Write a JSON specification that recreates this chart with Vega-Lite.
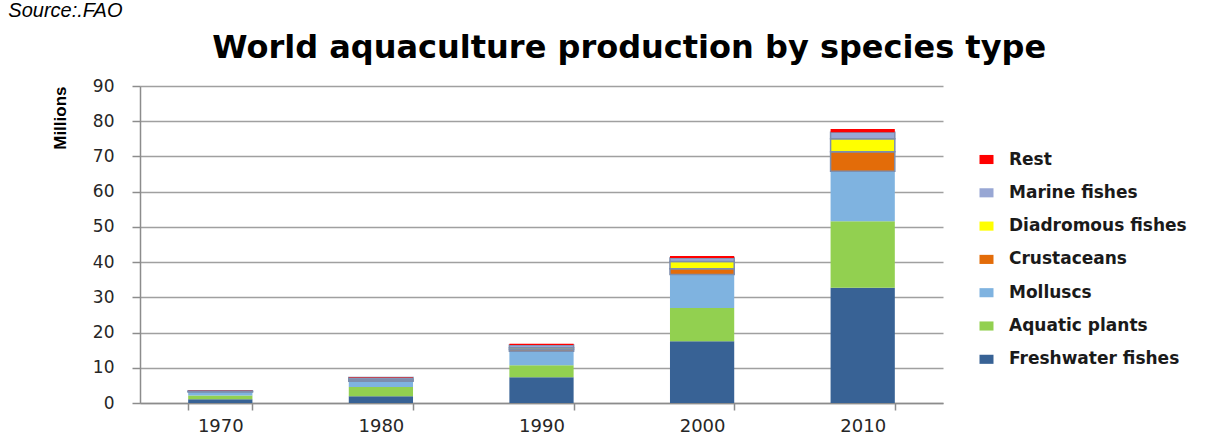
{
  "$schema": "https://vega.github.io/schema/vega-lite/v6.json",
  "padding": {"left": 8, "top": 1, "right": 2, "bottom": 0},
  "background": "white",
  "title": {"text": "Source:.FAO", "anchor": "start", "frame": "bounds", "dx": -43, "font": "Liberation Sans", "fontSize": 20, "fontStyle": "italic", "fontWeight": "normal", "color": "#000000", "offset": 11},
  "vconcat": [
    {
      "title": {"text": "World aquaculture production by species type", "anchor": "middle", "frame": "bounds", "dx": 132, "font": "DejaVu Sans", "fontSize": 32, "fontWeight": "bold", "color": "#000000", "offset": 12},
      "width": 803,
      "height": 317,
      "data": {
        "values": [
          {"year": "1970", "species": "Freshwater fishes", "k": 1, "value": 1.1},
          {"year": "1970", "species": "Aquatic plants", "k": 2, "value": 1.0},
          {"year": "1970", "species": "Molluscs", "k": 3, "value": 1.1},
          {"year": "1970", "species": "Crustaceans", "k": 4, "value": 0.02},
          {"year": "1970", "species": "Diadromous fishes", "k": 5, "value": 0.08},
          {"year": "1970", "species": "Marine fishes", "k": 6, "value": 0.2},
          {"year": "1970", "species": "Rest", "k": 7, "value": 0.02},
          {"year": "1980", "species": "Freshwater fishes", "k": 1, "value": 1.9},
          {"year": "1980", "species": "Aquatic plants", "k": 2, "value": 2.65},
          {"year": "1980", "species": "Molluscs", "k": 3, "value": 1.6},
          {"year": "1980", "species": "Crustaceans", "k": 4, "value": 0.2},
          {"year": "1980", "species": "Diadromous fishes", "k": 5, "value": 0.4},
          {"year": "1980", "species": "Marine fishes", "k": 6, "value": 0.5},
          {"year": "1980", "species": "Rest", "k": 7, "value": 0.1},
          {"year": "1990", "species": "Freshwater fishes", "k": 1, "value": 7.3},
          {"year": "1990", "species": "Aquatic plants", "k": 2, "value": 3.4},
          {"year": "1990", "species": "Molluscs", "k": 3, "value": 4.0},
          {"year": "1990", "species": "Crustaceans", "k": 4, "value": 0.5},
          {"year": "1990", "species": "Diadromous fishes", "k": 5, "value": 0.5},
          {"year": "1990", "species": "Marine fishes", "k": 6, "value": 0.8},
          {"year": "1990", "species": "Rest", "k": 7, "value": 0.3},
          {"year": "2000", "species": "Freshwater fishes", "k": 1, "value": 17.5},
          {"year": "2000", "species": "Aquatic plants", "k": 2, "value": 9.5},
          {"year": "2000", "species": "Molluscs", "k": 3, "value": 9.5},
          {"year": "2000", "species": "Crustaceans", "k": 4, "value": 1.6},
          {"year": "2000", "species": "Diadromous fishes", "k": 5, "value": 2.1},
          {"year": "2000", "species": "Marine fishes", "k": 6, "value": 1.0},
          {"year": "2000", "species": "Rest", "k": 7, "value": 0.5},
          {"year": "2010", "species": "Freshwater fishes", "k": 1, "value": 32.7},
          {"year": "2010", "species": "Aquatic plants", "k": 2, "value": 18.9},
          {"year": "2010", "species": "Molluscs", "k": 3, "value": 14.2},
          {"year": "2010", "species": "Crustaceans", "k": 4, "value": 5.5},
          {"year": "2010", "species": "Diadromous fishes", "k": 5, "value": 3.7},
          {"year": "2010", "species": "Marine fishes", "k": 6, "value": 1.9},
          {"year": "2010", "species": "Rest", "k": 7, "value": 0.9}
        ]
      },
      "mark": {"type": "bar", "width": {"band": 1}, "strokeWidth": 1.5},
      "encoding": {
        "x": {
          "field": "year", "type": "nominal",
          "scale": {"paddingInner": 0.6, "paddingOuter": 0.3},
          "axis": {"title": null, "labelAngle": 0, "tickBand": "extent", "tickSize": 7, "tickColor": "#8C8C8C", "tickWidth": 1.5, "domainColor": "#8C8C8C", "domainWidth": 1.5, "labelFont": "DejaVu Sans", "labelFontSize": 18, "labelColor": "#262626", "labelPadding": 7}
        },
        "y": {
          "field": "value", "type": "quantitative", "stack": "zero",
          "scale": {"domain": [0, 90], "nice": false},
          "axis": {"title": "Millions", "titleFont": "Liberation Sans", "titleFontSize": 17, "titleFontWeight": "bold", "titleColor": "#000000", "titleAnchor": "end", "titlePadding": 23, "values": [0, 10, 20, 30, 40, 50, 60, 70, 80, 90], "labelFont": "DejaVu Sans", "labelFontSize": 17, "labelColor": "#262626", "labelPadding": 18, "tickSize": 8, "tickColor": "#8C8C8C", "tickWidth": 1.5, "domainColor": "#8C8C8C", "domainWidth": 1.5, "gridColor": "#A0A0A0", "gridWidth": 1.5}
        },
        "color": {
          "field": "species", "type": "nominal",
          "scale": {
            "domain": ["Rest", "Marine fishes", "Diadromous fishes", "Crustaceans", "Molluscs", "Aquatic plants", "Freshwater fishes"],
            "range": ["#FF0000", "#98A7D4", "#FFFF00", "#E36C09", "#7FB3E0", "#92D050", "#386295"]
          },
          "legend": {"title": null, "orient": "none", "legendX": 838, "legendY": 65, "symbolType": "M-1,-0.65H1V0.65H-1Z", "symbolSize": 196, "symbolStrokeWidth": 0, "labelFont": "DejaVu Sans", "labelFontSize": 17, "labelFontWeight": "bold", "labelColor": "#1a1a1a", "labelOffset": 14, "labelLimit": 0, "rowPadding": 15.3, "padding": 0}
        },
        "stroke": {
          "condition": {"test": "datum.species === 'Crustaceans' || datum.species === 'Diadromous fishes' || datum.species === 'Marine fishes'", "value": "#7D8EAE"},
          "value": null
        },
        "order": {"field": "k", "type": "quantitative", "sort": "ascending"}
      }
    }
  ],
  "config": {"view": {"stroke": null}, "concat": {"spacing": 0}}
}
